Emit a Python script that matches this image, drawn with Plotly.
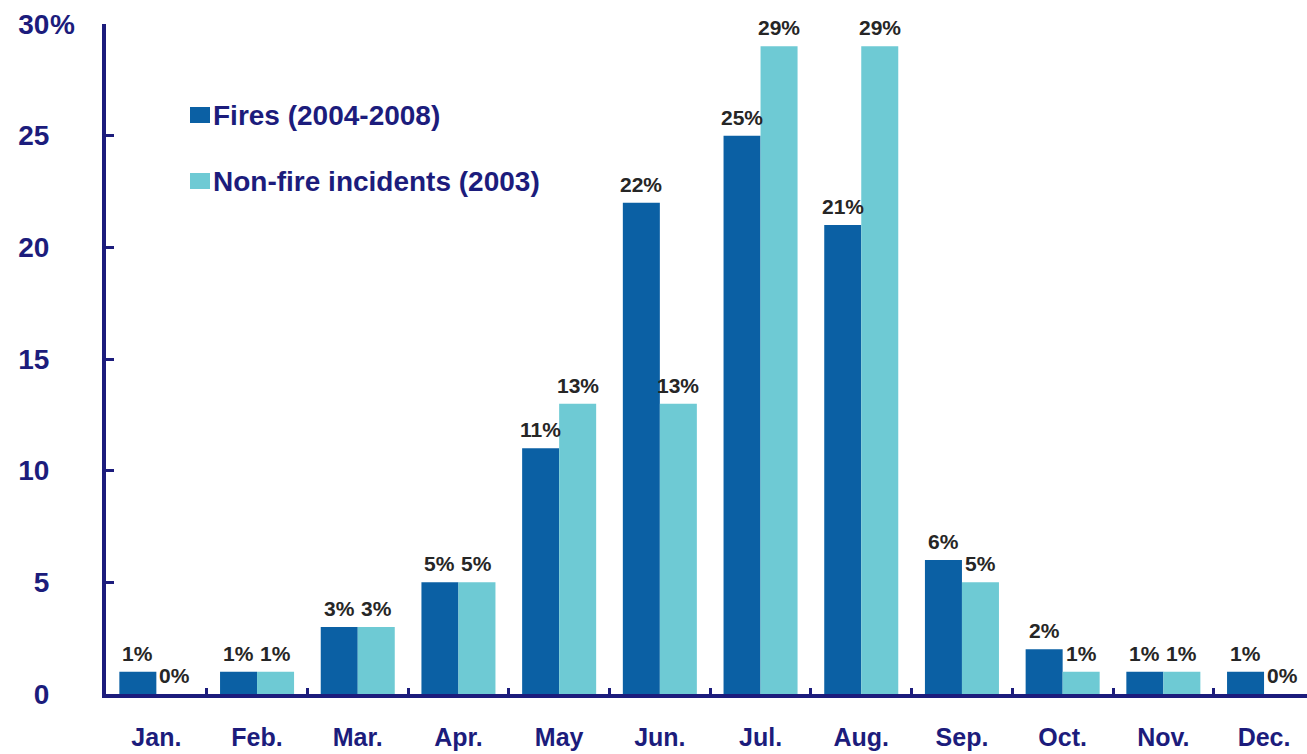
import plotly.graph_objects as go

# Monthly share of incidents (%)
months = ["Jan.", "Feb.", "Mar.", "Apr.", "May", "Jun.", "Jul.", "Aug.", "Sep.", "Oct.", "Nov.", "Dec."]
fires = [1, 1, 3, 5, 11, 22, 25, 21, 6, 2, 1, 1]
non_fire = [0, 1, 3, 5, 13, 13, 29, 29, 5, 1, 1, 0]
series_names = ["Fires (2004-2008)", "Non-fire incidents (2003)"]
y_ticks = [0, 5, 10, 15, 20, 25, 30]

DARK = "#0b60a4"
LIGHT = "#6ecad4"
NAVY = "#1c1c7c"
LABEL = "#262626"
FONT = "Liberation Sans, Arial, sans-serif"

# plot area in pixels (for the hand-drawn legend)
L, R, T, B = 106, 1307, 24, 694
W, H = R - L, B - T


def px_x(x):
    return (x - L) / W


def px_y(y):
    return (B - y) / H


fig = go.Figure()
for name, vals, col in [(series_names[0], fires, DARK), (series_names[1], non_fire, LIGHT)]:
    fig.add_trace(go.Bar(
        x=months, y=vals, name=name, marker=dict(color=col, line=dict(width=0)),
        showlegend=False,
    ))

# value labels above each bar
bar_half = 18.5
annotations = []
for vals, shift in [(fires, -bar_half), (non_fire, bar_half)]:
    for m, v in zip(months, vals):
        annotations.append(dict(
            x=m, y=v, xref="x", yref="y", text=f"{v}%", showarrow=False,
            xshift=shift, yshift=5, yanchor="bottom", xanchor="center",
            font=dict(family=FONT, size=21, color=LABEL, weight="bold"),
        ))

# "%" suffix next to the top tick label
annotations.append(dict(
    x=px_x(48), y=30, xref="paper", yref="y", text="%", showarrow=False,
    xanchor="left", yanchor="middle",
    font=dict(family=FONT, size=28, color=NAVY, weight="bold"),
))

# legend entries
shapes = []
for i, (name, col) in enumerate(zip(series_names, [DARK, LIGHT])):
    cy = 115 + i * 66
    shapes.append(dict(
        type="rect", xref="paper", yref="paper",
        x0=px_x(190), x1=px_x(210), y0=px_y(cy - 8), y1=px_y(cy + 8),
        fillcolor=col, line=dict(width=0),
    ))
    annotations.append(dict(
        x=px_x(211), y=px_y(cy), xref="paper", yref="paper", text=name,
        showarrow=False, xanchor="left", yanchor="middle",
        font=dict(family=FONT, size=28, color=NAVY, weight="bold"),
    ))

fig.update_layout(
    width=1307, height=754,
    margin=dict(l=L, r=1307 - R, t=T, b=754 - B),
    paper_bgcolor="white", plot_bgcolor="white",
    barmode="group", bargap=0.265, bargroupgap=0,
    annotations=annotations, shapes=shapes,
    showlegend=False,
)
fig.update_xaxes(
    range=[-0.5, -0.5 + W / 100.7],
    showline=True, linecolor=NAVY, linewidth=4,
    ticks="inside", tickson="boundaries", ticklen=6, tickwidth=3, tickcolor=NAVY,
    showgrid=False, zeroline=False,
    tickfont=dict(family=FONT, size=25, color=NAVY, weight="bold"),
    ticklabelstandoff=18,
)
fig.update_yaxes(
    range=[0, 30], tickvals=y_ticks, ticktext=[str(t) for t in y_ticks],
    showline=True, linecolor=NAVY, linewidth=4,
    ticks="inside", ticklen=8, tickwidth=3, tickcolor=NAVY,
    showgrid=False, zeroline=False,
    tickfont=dict(family=FONT, size=28, color=NAVY, weight="bold"),
    ticklabelstandoff=47,
)

fig.write_html("out.html")
